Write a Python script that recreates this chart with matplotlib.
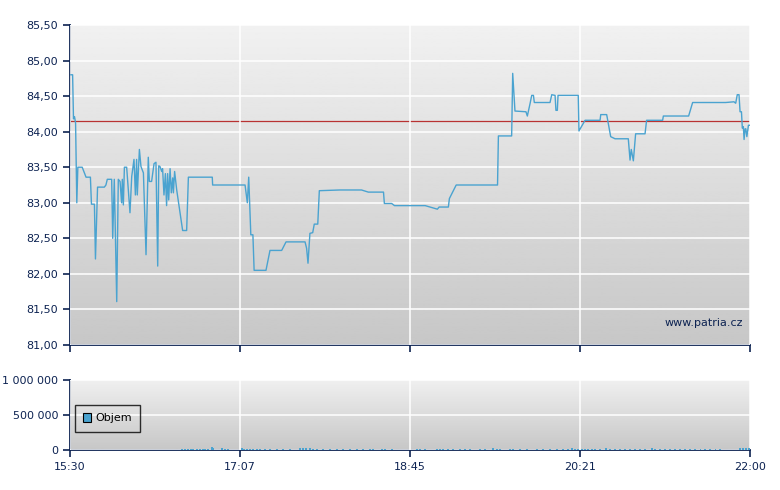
#!/usr/bin/env python3
"""
Intraday price chart with volume panel (patria.cz style).
Times are minutes after the 15:30 open.
"""
import numpy as np
import matplotlib
matplotlib.use("Agg")
import matplotlib.pyplot as plt
from matplotlib.patches import Patch

# Price trace (minutes after 15:30, price)
price_min = [0.5, 1.5, 2.0, 2.6, 3.2, 3.9, 4.5, 7.0, 9.2, 11.7, 12.3, 14.0, 14.6, 15.8,
             19.7, 20.6, 21.4, 23.9, 24.5, 25.4, 26.8, 27.7, 28.7, 29.6, 30.0, 30.6,
             31.2, 32.5, 34.4, 35.4, 36.7, 37.5, 38.2, 38.6, 39.8, 40.7, 42.1, 43.6,
             44.9, 45.5, 46.8, 48.2, 49.3, 50.3, 50.9, 51.6, 52.6, 53.1, 53.9, 54.7,
             55.4, 56.0, 56.6, 57.4, 58.1, 58.9, 59.3, 60.0, 61.2, 64.6, 66.9, 67.9,
             81.6, 81.8, 100.4, 101.7, 102.5, 103.7, 104.9, 105.6, 112.4, 114.7, 121.4,
             123.9, 134.8, 135.7, 136.5, 137.6, 139.2, 140.1, 142.1, 143.0, 154.8, 167.2,
             171.1, 179.8, 180.3, 184.5, 186.1, 203.7, 210.7, 211.7, 217.0, 217.6, 221.5,
             245.2, 245.7, 253.3, 253.9, 255.2, 261.5, 262.3, 263.9, 264.8, 265.8, 266.3,
             275.3, 276.3, 278.2, 278.7, 279.5, 279.9, 291.5, 291.9, 295.4, 304.0, 304.4,
             307.8, 310.1, 312.6, 320.2, 321.2, 321.9, 323.1, 324.4, 329.8, 330.7, 339.9,
             340.3, 354.8, 357.1, 376.0, 380.8, 381.8, 382.7, 383.7, 384.3, 385.1, 385.6,
             386.2, 386.6, 387.2, 387.6, 388.2, 389.1, 390.0]
price_val = [84.80, 84.80, 84.18, 84.21, 84.12, 83.00, 83.50, 83.50, 83.36, 83.36, 82.98,
             82.98, 82.21, 83.22, 83.22, 83.25, 83.33, 83.33, 82.50, 83.33, 81.61, 83.33,
             83.30, 83.00, 83.33, 82.97, 83.50, 83.50, 82.86, 83.37, 83.61, 83.11, 83.61,
             83.11, 83.75, 83.51, 83.42, 82.27, 83.64, 83.30, 83.30, 83.55, 83.57, 82.11,
             83.52, 83.51, 83.44, 83.48, 83.11, 83.41, 82.96, 83.41, 83.04, 83.48, 83.14,
             83.35, 83.14, 83.44, 83.18, 82.61, 82.61, 83.36, 83.36, 83.25, 83.25, 83.00,
             83.36, 82.55, 82.55, 82.05, 82.05, 82.33, 82.33, 82.45, 82.45, 82.36, 82.15,
             82.57, 82.58, 82.70, 82.70, 83.17, 83.18, 83.18, 83.15, 83.15, 82.99, 82.99,
             82.96, 82.96, 82.91, 82.94, 82.94, 83.06, 83.25, 83.25, 83.94, 83.94, 84.82,
             84.29, 84.28, 84.22, 84.40, 84.51, 84.51, 84.41, 84.41, 84.52, 84.51, 84.30,
             84.30, 84.51, 84.51, 84.01, 84.16, 84.16, 84.24, 84.24, 83.93, 83.90, 83.90,
             83.60, 83.75, 83.59, 83.97, 83.97, 84.16, 84.16, 84.22, 84.22, 84.41, 84.41,
             84.42, 84.40, 84.52, 84.52, 84.28, 84.28, 84.05, 84.07, 83.89, 84.04, 84.04,
             83.93, 84.09, 84.09]
prev_close = 84.15

# Volume bars (minutes after 15:30, shares)
vol_min = [64.2, 66.0, 67.7, 69.4, 70.5, 72.8, 74.6, 76.3, 77.4, 79.1, 81.4, 82.0, 87.2,
           88.9, 90.6, 98.6, 99.8, 101.5, 103.2, 105.0, 107.2, 109.0, 111.8, 114.7, 118.7,
           122.2, 126.2, 131.9, 133.6, 135.4, 137.6, 139.4, 141.7, 145.1, 149.1, 153.1,
           156.6, 160.6, 164.6, 168.0, 172.1, 173.8, 178.9, 180.7, 184.7, 199.0, 200.7,
           203.6, 210.5, 212.2, 213.9, 216.8, 219.7, 223.7, 226.5, 229.4, 235.1, 238.0,
           242.6, 244.9, 246.6, 252.4, 254.1, 258.1, 262.1, 267.8, 271.3, 275.3, 279.3,
           282.7, 285.6, 287.9, 289.6, 291.4, 293.6, 295.4, 297.1, 299.4, 301.1, 304.0,
           307.4, 309.7, 312.6, 315.4, 318.3, 321.2, 324.0, 326.9, 329.8, 333.8, 335.5,
           338.4, 341.2, 344.1, 347.0, 349.9, 352.7, 355.6, 358.5, 361.4, 364.2, 367.1,
           370.0, 372.8, 384.3, 386.0, 387.7, 389.4]
vol_val = [12000, 14000, 12000, 13000, 12000, 14000, 12000, 13000, 12000, 14000, 40000,
           27000, 26000, 13000, 12000, 26000, 13000, 12000, 14000, 12000, 13000, 12000,
           13000, 12000, 12000, 13000, 12000, 27000, 26000, 28000, 26000, 13000, 12000,
           12000, 13000, 12000, 12000, 13000, 12000, 12000, 13000, 12000, 12000, 13000,
           12000, 12000, 13000, 12000, 12000, 13000, 12000, 12000, 13000, 12000, 12000,
           13000, 12000, 12000, 26000, 12000, 13000, 12000, 12000, 13000, 12000, 12000,
           13000, 12000, 12000, 13000, 12000, 26000, 13000, 12000, 13000, 12000, 12000,
           13000, 12000, 12000, 26000, 13000, 12000, 12000, 13000, 12000, 12000, 13000,
           12000, 26000, 13000, 12000, 12000, 13000, 12000, 12000, 13000, 12000, 12000,
           13000, 12000, 12000, 13000, 12000, 26000, 27000, 26000, 27000]

tick_pos = [0, 97.5, 195, 292.5, 390]
tick_labels = ["15:30", "17:07", "18:45", "20:21", "22:00"]
price_ticks = [81.0, 81.5, 82.0, 82.5, 83.0, 83.5, 84.0, 84.5, 85.0, 85.5]
vol_ticks = [0, 500000, 1000000]
vol_labels = ["0", "500 000", "1 000 000"]

navy = "#0d2352"
blue = "#4aa3d0"

fig = plt.figure(figsize=(7.8, 4.9), dpi=100)
ax = fig.add_axes([70 / 780, 1 - 345 / 490, 680 / 780, 320 / 490])
axv = fig.add_axes([70 / 780, 1 - 450 / 490, 680 / 780, 70 / 490])

# grey vertical gradient behind both panels
grad = np.linspace(0, 1, 256).reshape(-1, 1)
for a, top, bot in [(ax, 0.945, 0.78), (axv, 0.94, 0.78)]:
    img = top - (top - bot) * grad
    a.imshow(img, cmap="gray", vmin=0, vmax=1, aspect="auto",
             extent=[0, 1, 0, 1], transform=a.transAxes, zorder=0)

for a in (ax, axv):
    a.set_xlim(0, 390)
    a.set_xticks(tick_pos)
    for s in ("top", "right"):
        a.spines[s].set_visible(False)
    for s in ("left", "bottom"):
        a.spines[s].set_color(navy)
        a.spines[s].set_linewidth(1.3)
    a.tick_params(colors=navy, labelcolor=navy, labelsize=8, length=5, width=1.2,
                  direction="out")
    a.grid(True, color="white", linewidth=1.1, zorder=1)
    a.set_axisbelow(False)

# price panel
ax.set_ylim(81, 85.5)
ax.set_yticks(price_ticks)
ax.set_yticklabels([f"{v:.2f}".replace(".", ",") for v in price_ticks])
ax.set_xticklabels([])
ax.axhline(prev_close, color="#b83232", linewidth=0.9, zorder=2)
ax.plot(price_min, price_val, color=blue, linewidth=1.0, zorder=3)
ax.text(0.99, 0.068, "www.patria.cz", transform=ax.transAxes, ha="right",
        va="center", color=navy, fontsize=8, zorder=4)

# volume panel
axv.set_ylim(0, 1000000)
axv.set_yticks(vol_ticks)
axv.set_yticklabels(vol_labels)
axv.set_xticklabels(tick_labels)
axv.bar(vol_min, vol_val, width=0.7, color=blue, zorder=3)
leg = axv.legend(handles=[Patch(facecolor=blue, edgecolor="black", linewidth=0.8, label="Objem")],
                 loc="upper left", bbox_to_anchor=(0.007, 0.643), borderaxespad=0,
                 fancybox=False, edgecolor="black", facecolor="none", fontsize=8,
                 handlelength=0.75, handleheight=0.75, handletextpad=0.35,
                 borderpad=0.75)
leg.get_frame().set_linewidth(1.0)
for txt in leg.get_texts():
    txt.set_color("black")

fig.savefig("out.png", dpi=100)
